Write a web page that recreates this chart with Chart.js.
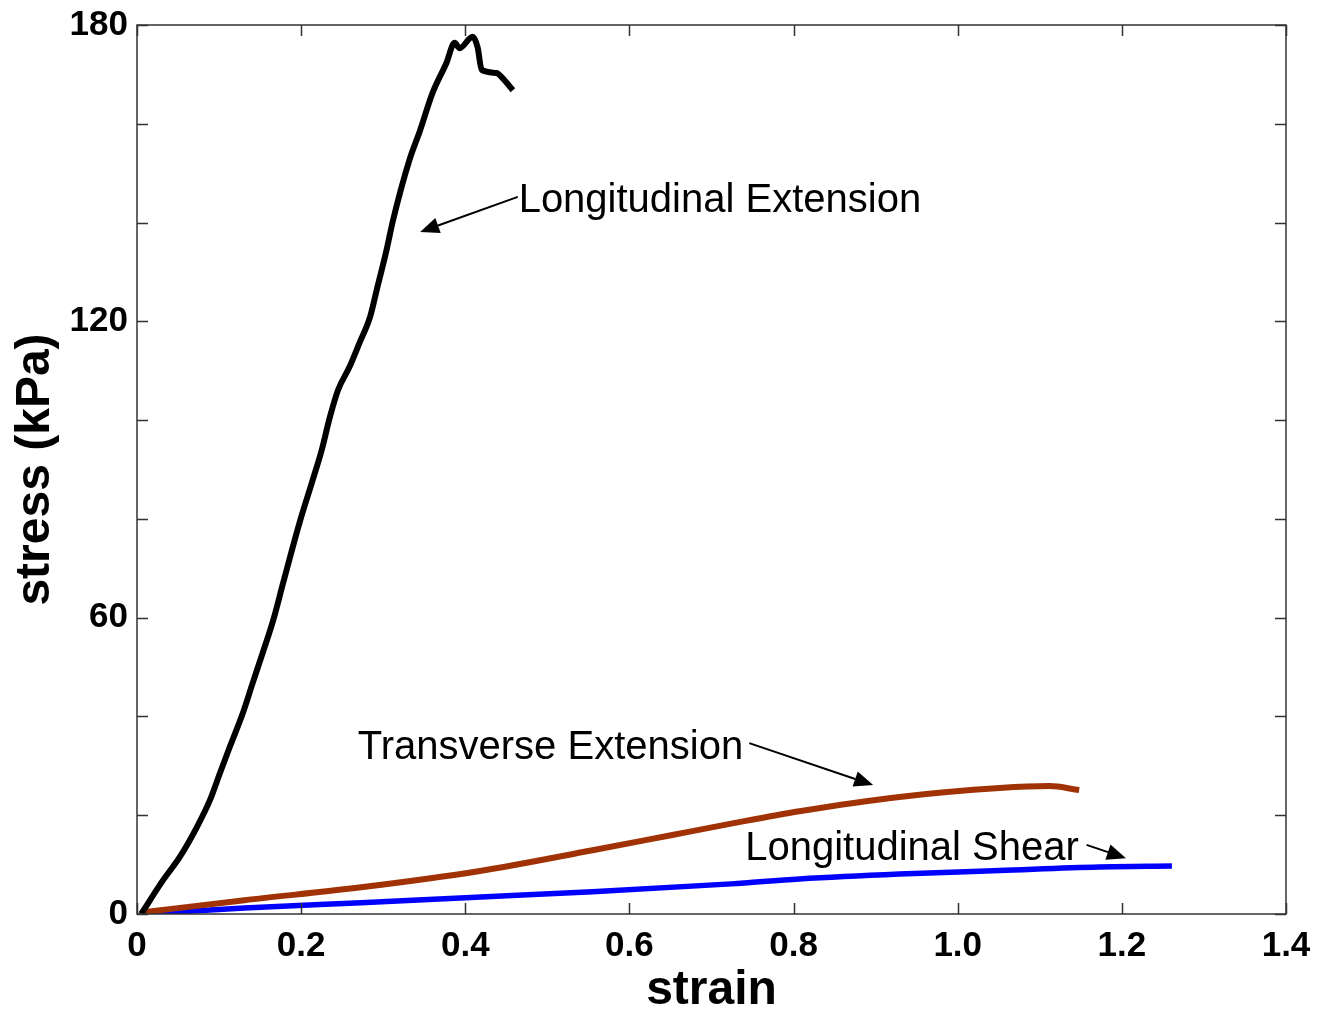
<!DOCTYPE html>
<html>
<head>
<meta charset="utf-8">
<script src="https://cdn.jsdelivr.net/npm/chart.js@4/dist/chart.umd.min.js"></script>
<style>
  html, body { margin: 0; padding: 0; background: #fff; }
  #wrap { width: 1330px; height: 1010px; }
</style>
</head>
<body>
<div id="wrap"><canvas id="stressChart"></canvas></div>
<script>
// strain / stress (kPa)
var longExtStrain = [0.005, 0.032, 0.052, 0.073, 0.089, 0.101, 0.113, 0.129, 0.141, 0.153, 0.166, 0.178, 0.198, 0.213, 0.225, 0.235, 0.245, 0.259, 0.271, 0.284, 0.292, 0.304, 0.312, 0.332, 0.345, 0.360, 0.377, 0.387, 0.393, 0.409, 0.415, 0.420, 0.438, 0.444, 0.458];
var longExtStress = [0, 6.9, 11.5, 17.6, 23.1, 28.5, 33.8, 40.7, 46.8, 52.8, 59.5, 67.0, 79.2, 87.3, 93.9, 100.6, 106.1, 110.8, 115.6, 120.9, 126.3, 134.4, 140.5, 152.7, 158.7, 166.2, 172.3, 176.4, 175.3, 177.6, 175.5, 170.9, 170.3, 169.5, 166.8];

var transExtStrain = [0.005, 0.131, 0.273, 0.414, 0.555, 0.649, 0.724, 0.807, 0.929, 1.051, 1.112, 1.148];
var transExtStress = [0.3, 2.8, 5.4, 8.6, 12.9, 15.9, 18.3, 20.8, 23.7, 25.5, 25.9, 25.1];

var longShearStrain = [0.005, 0.131, 0.273, 0.413, 0.555, 0.724, 0.807, 0.929, 1.051, 1.172, 1.261];
var longShearStress = [0, 1.2, 2.3, 3.4, 4.5, 6.1, 7.1, 8.1, 8.8, 9.5, 9.7];

var xTicks = [0, 0.2, 0.4, 0.6, 0.8, 1.0, 1.2, 1.4];
var xTickLabels = ['0', '0.2', '0.4', '0.6', '0.8', '1.0', '1.2', '1.4'];
var yTicks = [0, 20, 40, 60, 80, 100, 120, 140, 160, 180];
var yTickLabels = [0, 60, 120, 180];

function toPoints(xs, ys) {
    return xs.map(function (x, i) { return { x: x, y: ys[i] }; });
}

var FONT = "'Liberation Sans', Arial, sans-serif";

// callout texts with arrows, in data units
var callouts = [
    { text: 'Longitudinal Extension', x: 0.465, y: 142.1, from: [0.464, 145.2], to: [0.345, 138.1] },
    { text: 'Transverse Extension', x: 0.269, y: 31.4, from: [0.746, 34.6], to: [0.897, 26.1] },
    { text: 'Longitudinal Shear', x: 0.741, y: 10.9, from: [1.157, 14.0], to: [1.205, 11.3] }
];

// box frame with inward ticks on all four sides, plus the callouts
var boxPlugin = {
    id: 'boxPlugin',
    afterDatasetsDraw: function (chart) {
        var c = chart.ctx, a = chart.chartArea;
        var xs = chart.scales.x, ys = chart.scales.y;
        var len = 11;
        c.save();
        c.strokeStyle = '#333';
        c.lineWidth = 1.5;
        c.strokeRect(a.left, a.top, a.right - a.left, a.bottom - a.top);
        c.beginPath();
        xTicks.forEach(function (v) {
            var px = Math.round(xs.getPixelForValue(v)) + 0.5;
            c.moveTo(px, a.bottom); c.lineTo(px, a.bottom - len);
            c.moveTo(px, a.top); c.lineTo(px, a.top + len);
        });
        yTicks.forEach(function (v) {
            var py = Math.round(ys.getPixelForValue(v)) + 0.5;
            c.moveTo(a.left, py); c.lineTo(a.left + len, py);
            c.moveTo(a.right, py); c.lineTo(a.right - len, py);
        });
        c.stroke();

        c.fillStyle = '#000';
        c.strokeStyle = '#000';
        c.font = '40px ' + FONT;
        c.textBaseline = 'alphabetic';
        c.textAlign = 'left';
        callouts.forEach(function (o) {
            c.fillText(o.text, xs.getPixelForValue(o.x), ys.getPixelForValue(o.y));
            var x0 = xs.getPixelForValue(o.from[0]), y0 = ys.getPixelForValue(o.from[1]);
            var x1 = xs.getPixelForValue(o.to[0]), y1 = ys.getPixelForValue(o.to[1]);
            var ang = Math.atan2(y1 - y0, x1 - x0);
            var hl = 19, hw = 8;
            c.lineWidth = 2;
            c.beginPath();
            c.moveTo(x0, y0);
            c.lineTo(x1 - hl * Math.cos(ang), y1 - hl * Math.sin(ang));
            c.stroke();
            c.beginPath();
            c.moveTo(x1, y1);
            c.lineTo(x1 - hl * Math.cos(ang) - hw * Math.sin(ang), y1 - hl * Math.sin(ang) + hw * Math.cos(ang));
            c.lineTo(x1 - hl * Math.cos(ang) + hw * Math.sin(ang), y1 - hl * Math.sin(ang) - hw * Math.cos(ang));
            c.closePath();
            c.fill();
        });
        c.restore();
    }
};

var ctx = document.getElementById('stressChart').getContext('2d');
var stressChart = new Chart(ctx, {
    type: 'scatter',
    data: {
        datasets: [{
            label: 'Longitudinal Extension',
            data: toPoints(longExtStrain, longExtStress),
            borderColor: '#000000',
            borderWidth: 6
        }, {
            label: 'Transverse Extension',
            data: toPoints(transExtStrain, transExtStress),
            borderColor: '#a03205',
            borderWidth: 6
        }, {
            label: 'Longitudinal Shear',
            data: toPoints(longShearStrain, longShearStress),
            borderColor: '#0000ff',
            borderWidth: 5.5
        }]
    },
    options: {
        responsive: true,
        maintainAspectRatio: false,
        animation: false,
        showLine: true,
        elements: {
            point: { radius: 0, hoverRadius: 0 },
            line: { cubicInterpolationMode: 'monotone', fill: false, borderJoinStyle: 'round', borderCapStyle: 'butt' }
        },
        layout: { padding: { left: 0, right: 44, top: 25, bottom: 0 } },
        plugins: {
            legend: { display: false },
            tooltip: { enabled: false }
        },
        scales: {
            x: {
                type: 'linear',
                min: 0,
                max: 1.4,
                afterBuildTicks: function (scale) {
                    scale.ticks = xTicks.map(function (v) { return { value: v }; });
                },
                afterFit: function (scale) { scale.height = 96; },
                grid: { display: false, drawTicks: false },
                border: { display: false },
                ticks: {
                    padding: 11,
                    maxRotation: 0,
                    color: '#000',
                    font: { family: FONT, size: 35, weight: 'bold' },
                    callback: function (v, i) { return xTickLabels[i]; }
                },
                title: {
                    display: true,
                    text: 'strain',
                    color: '#000',
                    padding: { top: 0, bottom: -5 },
                    font: { family: FONT, size: 48, weight: 'bold', lineHeight: 1.0 }
                }
            },
            y: {
                type: 'linear',
                min: 0,
                max: 180,
                afterBuildTicks: function (scale) {
                    scale.ticks = yTicks.map(function (v) { return { value: v }; });
                },
                afterFit: function (scale) {
                    scale.width = 137;
                    scale.paddingTop = 0;
                    scale.paddingBottom = 0;
                },
                grid: { display: false, drawTicks: false },
                border: { display: false },
                ticks: {
                    padding: 9,
                    color: '#000',
                    font: { family: FONT, size: 35, weight: 'bold' },
                    callback: function (v) { return yTickLabels.indexOf(v) >= 0 ? String(v) : ''; }
                },
                title: {
                    display: true,
                    text: 'stress (kPa)',
                    color: '#000',
                    padding: { top: 12, bottom: 0 },
                    font: { family: FONT, size: 48, weight: 'bold', lineHeight: 1.0 }
                }
            }
        }
    },
    plugins: [boxPlugin]
});
</script>
</body>
</html>
